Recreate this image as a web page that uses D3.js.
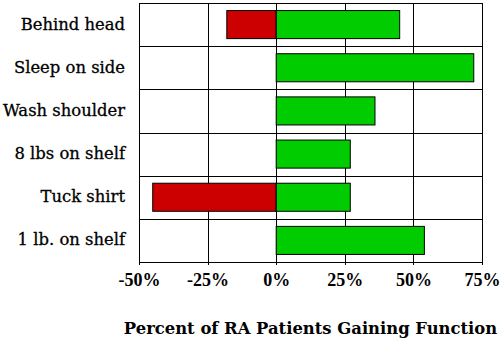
<!DOCTYPE html>
<html>
<head>
<meta charset="utf-8">
<script src="https://cdn.jsdelivr.net/npm/d3@7"></script>
<style>
  body { margin: 0; background: #fff; }
  svg { display: block; }
</style>
</head>
<body>
<div id="chart"></div>
<script>
// activities, top to bottom
var activities = ['Behind head', 'Sleep on side', 'Wash shoulder', '8 lbs on shelf', 'Tuck shirt', '1 lb. on shelf']
// percent losing function (drawn to the left) and gaining function
var losing = [-18, 0, 0, 0, -45, 0]
var gaining = [45, 72, 36, 27, 27, 54]
var ticks = [-0.5, -0.25, 0, 0.25, 0.5, 0.75]
var tickLabels = ['-50%', '-25%', '0%', '25%', '50%', '75%']

var width = 504
var height = 340
var margin = { top: 3, right: 22, bottom: 78, left: 139 }

var svg = d3.select('#chart')
  .append('svg')
  .attr('width', width)
  .attr('height', height)

var x = d3.scaleLinear()
  .domain([-0.5, 0.75])
  .range([margin.left, width - margin.right])

var y = d3.scaleBand()
  .domain(activities)
  .range([margin.top, height - margin.bottom])
  .paddingInner(0.35)
  .paddingOuter(0.175)

var step = y.step()
var plotTop = margin.top
var plotBottom = height - margin.bottom

function px (v) { return Math.round(v) + 0.5 }

// vertical grid lines
svg.append('g')
  .selectAll('line')
  .data(ticks)
  .enter().append('line')
  .attr('x1', function (d) { return px(x(d)) })
  .attr('x2', function (d) { return px(x(d)) })
  .attr('y1', plotTop)
  .attr('y2', plotBottom + 3)
  .attr('stroke', '#000')
  .attr('stroke-width', 1)

// row separators
svg.append('g')
  .selectAll('line')
  .data(d3.range(activities.length + 1))
  .enter().append('line')
  .attr('x1', px(x(-0.5)))
  .attr('x2', px(x(0.75)))
  .attr('y1', function (i) { return px(plotTop + i * step) })
  .attr('y2', function (i) { return px(plotTop + i * step) })
  .attr('stroke', '#000')
  .attr('stroke-width', 1)

var bars = svg.append('g')

bars.selectAll('rect.lose')
  .data(activities.filter(function (d, i) { return losing[i] < 0 }))
  .enter().append('rect')
  .attr('class', 'lose')
  .attr('x', function (d) { return x(losing[activities.indexOf(d)] / 100) })
  .attr('y', function (d) { return y(d) })
  .attr('width', function (d) { return x(0) - x(losing[activities.indexOf(d)] / 100) })
  .attr('height', y.bandwidth())
  .attr('fill', '#cc0000')
  .attr('stroke', '#000')
  .attr('stroke-width', 1)

bars.selectAll('rect.gain')
  .data(activities)
  .enter().append('rect')
  .attr('class', 'gain')
  .attr('x', x(0))
  .attr('y', function (d) { return y(d) })
  .attr('width', function (d, i) { return x(gaining[i] / 100) - x(0) })
  .attr('height', y.bandwidth())
  .attr('fill', '#00cc00')
  .attr('stroke', '#000')
  .attr('stroke-width', 1)

// category labels
svg.append('g')
  .selectAll('text')
  .data(activities)
  .enter().append('text')
  .attr('x', margin.left - 14)
  .attr('y', function (d) { return y(d) + y.bandwidth() / 2 + 5 })
  .attr('text-anchor', 'end')
  .attr('font-family', 'DejaVu Serif, serif')
  .attr('font-size', 16.4)
  .attr('stroke', '#000')
  .attr('stroke-width', 0.3)
  .text(function (d) { return d })

// x axis
var axis = svg.append('g')
  .attr('transform', 'translate(0,' + plotBottom + ')')
  .call(d3.axisBottom(x).tickValues(ticks)
    .tickFormat(function (d, i) { return tickLabels[i] })
    .tickSize(3).tickPadding(8))

axis.select('.domain').remove()
axis.selectAll('.tick line').remove()
axis.selectAll('text')
  .attr('font-family', 'Liberation Serif, serif')
  .attr('font-size', 18)
  .attr('font-weight', 'bold')
  .attr('fill', '#000')

svg.append('text')
  .attr('x', (x(-0.5) + x(0.75)) / 2)
  .attr('y', 334)
  .attr('text-anchor', 'middle')
  .attr('font-family', 'DejaVu Serif, serif')
  .attr('font-size', 16.4)
  .attr('font-weight', 'bold')
  .text('Percent of RA Patients Gaining Function')
</script>
</body>
</html>
